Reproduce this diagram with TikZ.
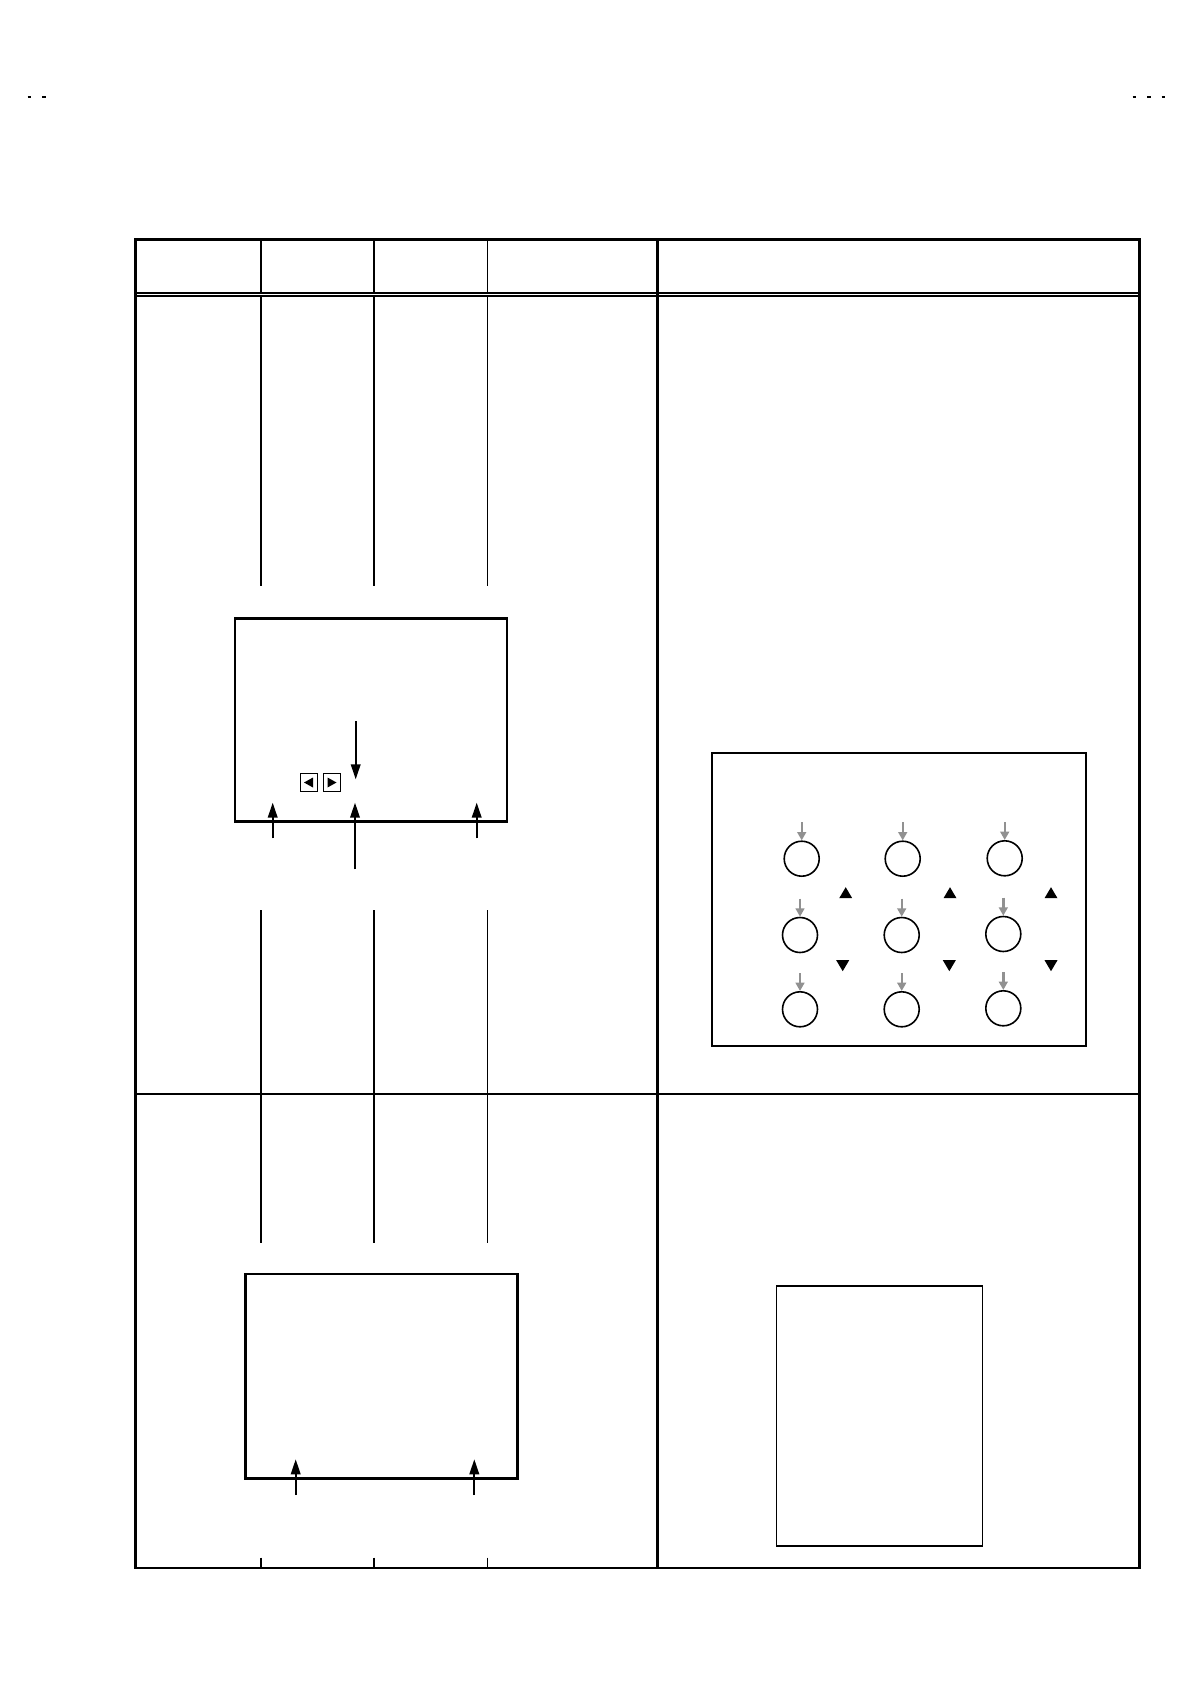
\documentclass[tikz,border=0pt]{standalone}
\usetikzlibrary{arrows.meta}
\definecolor{arrowgray}{RGB}{145,145,145}
\begin{document}
\begin{tikzpicture}[x=0.5pt,y=-0.5pt,
  frame/.style={line width=1.4pt},
  colthick/.style={line width=1.25pt},
  colthin/.style={line width=0.65pt},
  monitor/.style={draw,line width=1.35pt,inner sep=0pt},
  panel/.style={draw,line width=0.9pt,inner sep=0pt},
  smallbox/.style={draw,line width=0.55pt,inner sep=0pt,minimum width=8.8pt,minimum height=9.2pt},
  blackarrow/.style={line width=0.9pt,-{Triangle[length=7.5pt,width=4.8pt]}},
  grayarrow/.style={draw=arrowgray,line width=1.2pt,-{Triangle[length=4.2pt,width=4.4pt]}},
  knob/.style={circle,draw,line width=0.8pt,minimum size=17.5pt,inner sep=0pt},
  dashmark/.style={line width=0.8pt}]
\useasboundingbox (0,0) rectangle (1190,1684);

% corner marks
\draw[dashmark] (27.5,97.3) -- (31,97.3);
\draw[dashmark] (42,97.3) -- (45.5,97.3);
\draw[dashmark] (1132.5,97.3) -- (1136,97.3);
\draw[dashmark] (1147,97.3) -- (1150.5,97.3);
\draw[dashmark] (1161.5,97.3) -- (1165,97.3);

% table frame
\draw[frame] (135.5,239.5) rectangle (1139.5,1568);
\draw[line width=1.1pt] (135.5,292.7) -- (1139.5,292.7);
\draw[line width=0.6pt] (135.5,296) -- (1139.5,296);
\draw[line width=0.85pt] (135.5,1094) -- (1139.5,1094);

% header columns
\draw[colthick] (261,239.5) -- (261,292.7);
\draw[colthick] (374,239.5) -- (374,292.7);
\draw[colthin] (487.7,239.5) -- (487.7,292.7);
\draw[colthick] (657.7,239.5) -- (657.7,1568);

% body columns (segments)
\foreach \ya/\yb in {296/585.7, 910/1243, 1557.5/1568}{
  \draw[colthick] (261,\ya) -- (261,\yb);
  \draw[colthick] (374,\ya) -- (374,\yb);
  \draw[colthin] (487.7,\ya) -- (487.7,\yb);
}

% monitor 1
\node (mon1) [monitor,minimum width=136pt,minimum height=101.6pt] at (371.1,720.1) {};
\node (bl) [smallbox] at (308.85,782.5) {};
\node (br) [smallbox] at (332,782.5) {};
\fill (304,782.5) -- (313,777.5) -- (313,787.5) -- cycle;
\fill (336.5,782.5) -- (327.5,777.5) -- (327.5,787.5) -- cycle;
\coordinate (d1s) at (355.7,721);
\coordinate (d1e) at (355.7,779.3);
\draw[blackarrow] (d1s) -- (d1e);
\coordinate (u1s) at (272.7,838.3);
\coordinate (u1e) at (272.7,802.7);
\draw[blackarrow] (u1s) -- (u1e);
\coordinate (u2s) at (355,869.3);
\coordinate (u2e) at (355,802.7);
\draw[blackarrow] (u2s) -- (u2e);
\coordinate (u3s) at (476.7,838.3);
\coordinate (u3e) at (476.7,802.7);
\draw[blackarrow] (u3s) -- (u3e);

% nine-knob panel
\node (pan) [panel,line width=1pt,minimum width=186.8pt,minimum height=146.6pt] at (898.7,899.4) {};
\foreach \n/\cx/\cy in {a/801.7/858.7, b/902.7/858.7, c/1004.7/858.3,
                        d/800/935, e/901.7/935, f/1003.3/934,
                        g/800/1009.3, h/901.7/1009.3, i/1003.3/1008.3}{
  \node (k\n) [knob] at (\cx,\cy) {};
  \draw[grayarrow] ([yshift=9pt]k\n.north) -- (k\n.north);
}
\foreach \cx/\cy in {845.7/892.7, 950/892.7, 1051/892.7}{
  \fill (\cx,\cy) ++(-6.5,5.5) -- ++(13,0) -- ++(-6.5,-11) -- cycle;
}
\foreach \cx/\cy in {842.7/965.7, 949.3/965.7, 1051/965.7}{
  \fill (\cx,\cy) ++(-6.5,-5.5) -- ++(13,0) -- ++(-6.5,11) -- cycle;
}

% monitor 2
\node (mon2) [monitor,minimum width=136pt,minimum height=102.2pt] at (381.7,1376.2) {};
\coordinate (v1s) at (295.7,1495);
\coordinate (v1e) at (295.7,1459.3);
\draw[blackarrow] (v1s) -- (v1e);
\coordinate (v2s) at (474.3,1495);
\coordinate (v2e) at (474.3,1459.3);
\draw[blackarrow] (v2s) -- (v2e);

% tall panel
\node (tall) [panel,line width=0.75pt,minimum width=103pt,minimum height=130pt] at (879.3,1416) {};
\end{tikzpicture}
\end{document}
